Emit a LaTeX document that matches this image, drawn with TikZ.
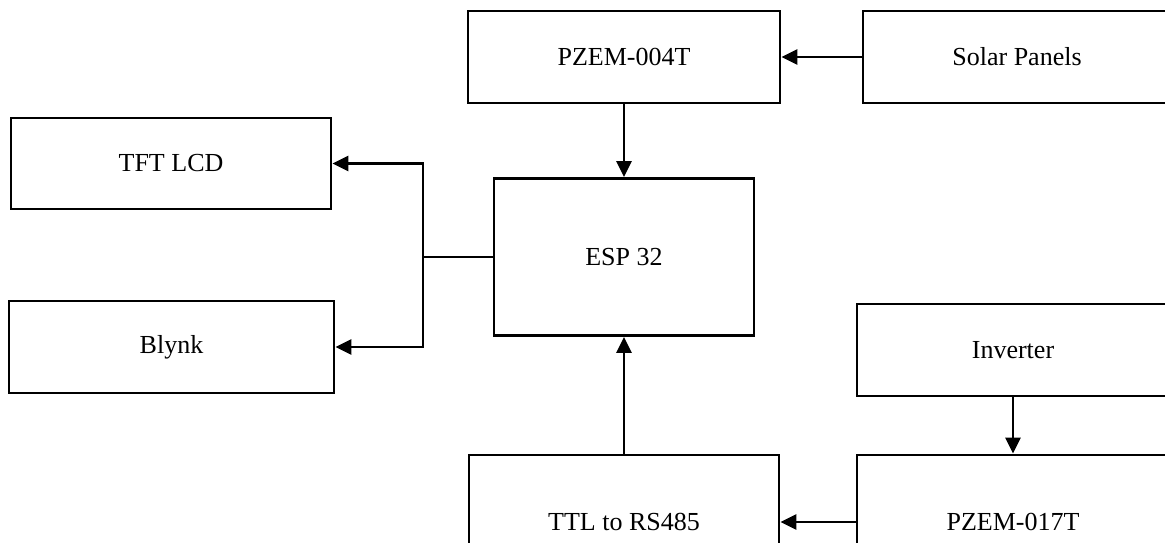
\documentclass[tikz,border=0pt]{standalone}
\usepackage{fontspec}
\setmainfont{Liberation Serif}
\usetikzlibrary{arrows.meta}
\begin{document}
\begin{tikzpicture}[x=1pt,y=-1pt,
  blk/.style={draw, line width=2.9pt, rectangle, inner sep=0pt, font=\fontsize{26}{31}\selectfont},
  conn/.style={line width=2.9pt},
  arr/.style={conn, -{Triangle[length=16pt,width=15pt]}}]
\useasboundingbox (0,0) rectangle (1165,542);
\clip (0,0) rectangle (1165,542);
\node[blk, minimum width=312pt, minimum height=92pt] (pzem4) at (624,57) {PZEM-004T};
\node[blk, minimum width=308pt, minimum height=92pt] (solar) at (1017,57) {Solar Panels};
\node[blk, minimum width=260pt, minimum height=157pt] (esp) at (624,257) {ESP 32};
\node[blk, minimum width=320pt, minimum height=91pt] (tft) at (171,163.5) {TFT LCD};
\node[blk, minimum width=325pt, minimum height=92pt] (blynk) at (171.5,347) {Blynk};
\node[blk, minimum width=312pt, minimum height=92pt] (inv) at (1013,350) {Inverter};
\node[blk, minimum width=310pt, minimum height=134pt] (ttl) at (624,522) {TTL to RS485};
\node[blk, minimum width=312pt, minimum height=134pt] (pzem17) at (1013,522) {PZEM-017T};
\coordinate (jn) at (423,257);
\draw[arr] (solar.west) -- (pzem4.east);
\draw[arr] (pzem4.south) -- (esp.north);
\draw[conn] (esp.west) -- (jn);
\draw[arr] (jn) |- (tft.east);
\draw[arr] (jn) |- (blynk.east);
\draw[arr] (inv.south) -- (pzem17.north);
\draw[arr] (pzem17.west) -- (ttl.east);
\draw[arr] (ttl.north) -- (esp.south);
\end{tikzpicture}
\end{document}
